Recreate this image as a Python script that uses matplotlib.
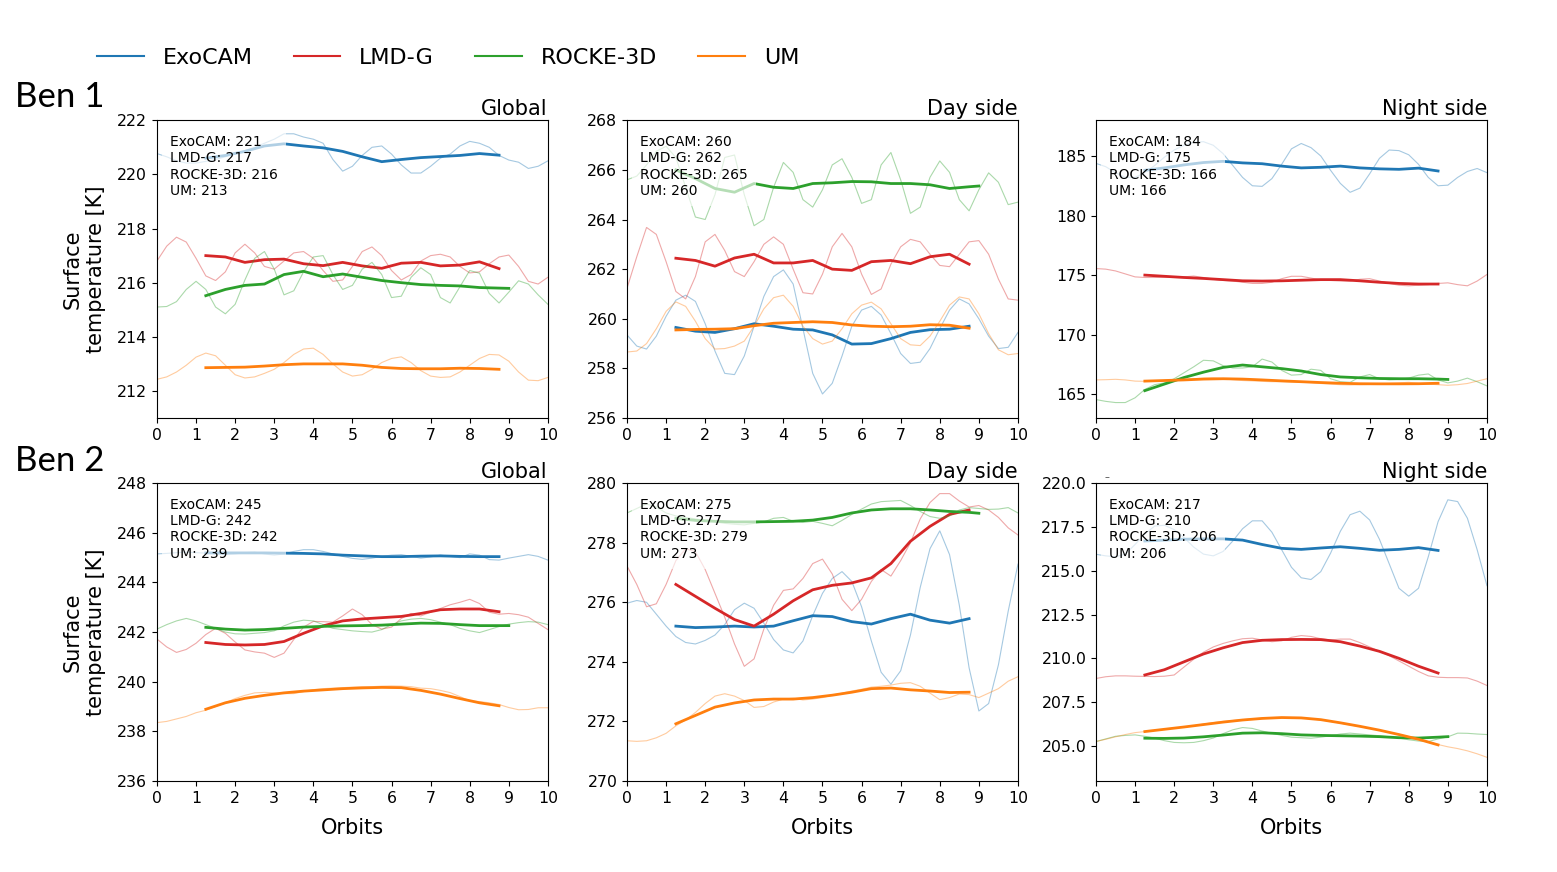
import matplotlib.pyplot as plt
from matplotlib.lines import Line2D
from matplotlib.ticker import FormatStrFormatter
import numpy as np

models = ['ExoCAM', 'LMD-G', 'ROCKE-3D', 'UM']
colors = ['tab:blue', 'tab:red', 'tab:green', 'tab:orange']

# sample positions (orbits)
t_raw = np.arange(0, 10.01, 0.25)
t_smooth = np.arange(1.25, 8.76, 0.5)
t_smooth_rocke = np.append(t_smooth, 9.0)

# ---------------- Ben 1, global ----------------
b1g_exo = [220.77, 220.65, 220.5, 220.42, 220.42, 220.48, 220.55, 220.65, 220.75, 220.88,
           221.0, 221.15, 221.3, 221.5, 221.5, 221.38, 221.3, 221.15, 220.55, 220.12,
           220.3, 220.7, 221.0, 221.05, 220.75, 220.35, 220.05, 220.05, 220.3, 220.6,
           220.75, 221.05, 221.22, 221.15, 221.0, 220.7, 220.53, 220.45, 220.22, 220.3,
           220.5]
b1g_lmd = [216.8, 217.35, 217.68, 217.5, 216.9, 216.25, 216.08, 216.4, 217.1, 217.42,
           217.1, 216.6, 216.5, 216.8, 217.1, 217.15, 216.9, 216.45, 216.05, 216.1,
           216.6, 217.15, 217.32, 217.0, 216.45, 216.1, 216.3, 216.8, 217.0, 217.05,
           216.95, 216.6, 216.36, 216.4, 216.7, 216.95, 217.02, 216.6, 216.05, 215.95,
           216.2]
b1g_rocke = [215.1, 215.12, 215.3, 215.75, 216.05, 215.75, 215.1, 214.85, 215.2, 216.1,
             216.9, 217.15, 216.5, 215.55, 215.7, 216.4, 216.95, 217.0, 216.3, 215.75,
             215.9, 216.5, 216.75, 216.3, 215.45, 215.5, 216.2, 216.55, 216.3, 215.45,
             215.25, 215.85, 216.45, 216.35, 215.6, 215.25, 215.65, 216.07, 215.95, 215.55,
             215.2]
b1g_um = [212.43, 212.52, 212.7, 212.95, 213.25, 213.4, 213.3, 212.95, 212.6, 212.48,
          212.52, 212.65, 212.8, 213.05, 213.35, 213.55, 213.58, 213.35, 213.0, 212.7,
          212.55, 212.6, 212.8, 213.05, 213.2, 213.26, 213.05, 212.75, 212.55, 212.5,
          212.52, 212.7, 212.95, 213.2, 213.35, 213.33, 213.1, 212.7, 212.4, 212.38,
          212.5]
b1g_exo_s = [220.6, 220.7, 220.85, 221.05, 221.13, 221.05, 220.98, 220.85, 220.65, 220.47,
             220.55, 220.62, 220.66, 220.7, 220.77, 220.71]
b1g_lmd_s = [217.0, 216.95, 216.75, 216.85, 216.87, 216.7, 216.63, 216.75, 216.62, 216.53,
             216.72, 216.75, 216.62, 216.65, 216.77, 216.52]
b1g_rocke_s = [215.52, 215.75, 215.9, 215.95, 216.3, 216.42, 216.22, 216.32, 216.2, 216.08,
               216.0, 215.93, 215.9, 215.88, 215.82, 215.8, 215.79]
b1g_um_s = [212.86, 212.87, 212.88, 212.92, 212.97, 213.0, 213.0, 213.0, 212.95, 212.87,
            212.83, 212.82, 212.82, 212.84, 212.83, 212.8]
b1g_means = [221, 217, 216, 213]

# ---------------- Ben 1, day side ----------------
b1d_exo = [259.35, 258.9, 258.78, 259.3, 260.1, 260.75, 260.95, 260.7, 259.8, 258.7,
           257.8, 257.75, 258.5, 259.7, 260.9, 261.7, 261.97, 261.4, 259.6, 257.8,
           256.97, 257.4, 258.5, 259.7, 260.35, 260.5, 260.15, 259.4, 258.6, 258.2,
           258.25, 258.8, 259.6, 260.35, 260.8, 260.6, 260.0, 259.3, 258.8, 258.85,
           259.45]
b1d_lmd = [261.23, 262.5, 263.68, 263.4, 262.3, 261.1, 260.8, 261.7, 263.1, 263.4,
           262.75, 261.9, 261.7, 262.3, 263.0, 263.3, 263.0, 262.0, 261.05, 261.0,
           261.8, 262.9, 263.44, 262.9, 261.8, 260.98, 261.2, 262.2, 262.9, 263.2,
           263.1, 262.6, 262.15, 262.1, 262.6, 263.1, 263.15, 262.6, 261.6, 260.8,
           260.75]
b1d_rocke = [265.6, 265.75, 266.2, 266.75, 266.95, 266.5, 265.3, 264.1, 264.0, 265.0,
             266.5, 266.6, 265.0, 263.75, 264.0, 265.3, 266.3, 265.9, 264.8, 264.5,
             265.2, 266.2, 266.45, 265.7, 264.65, 264.8, 266.2, 266.7, 265.6, 264.25,
             264.5, 265.7, 266.36, 265.9, 264.8, 264.35, 265.2, 265.88, 265.5, 264.6,
             264.7]
b1d_um = [258.66, 258.7, 259.0, 259.6, 260.3, 260.68, 260.5, 259.9, 259.2, 258.78,
          258.8, 258.9, 259.1, 259.7, 260.4, 260.85, 260.95, 260.5, 259.7, 259.2,
          258.98, 259.1, 259.6, 260.2, 260.55, 260.67, 260.4, 259.8, 259.2, 258.95,
          258.92, 259.3, 259.9, 260.55, 260.88, 260.8, 260.2, 259.4, 258.75, 258.55,
          258.6]
b1d_exo_s = [259.65, 259.5, 259.45, 259.6, 259.8, 259.7, 259.58, 259.55, 259.35, 258.98,
             259.0, 259.2, 259.45, 259.56, 259.58, 259.7]
b1d_lmd_s = [262.44, 262.35, 262.12, 262.45, 262.6, 262.25, 262.25, 262.35, 262.0, 261.95,
             262.3, 262.35, 262.22, 262.5, 262.6, 262.2]
b1d_rocke_s = [266.0, 265.65, 265.25, 265.1, 265.45, 265.3, 265.25, 265.45, 265.48, 265.53,
               265.52, 265.45, 265.45, 265.4, 265.25, 265.32, 265.35]
b1d_um_s = [259.55, 259.57, 259.58, 259.6, 259.72, 259.82, 259.85, 259.88, 259.85, 259.75,
            259.7, 259.68, 259.7, 259.76, 259.74, 259.62]
b1d_means = [260, 262, 265, 260]

# ---------------- Ben 1, night side ----------------
b1n_exo = [184.38, 184.1, 183.6, 183.2, 183.2, 183.6, 184.2, 184.9, 185.5, 185.9,
           186.15, 186.2, 185.9, 185.2, 184.2, 183.2, 182.5, 182.45, 183.1, 184.3,
           185.6, 186.05, 185.7, 185.0, 183.8, 182.7, 181.95, 182.3, 183.5, 184.8,
           185.5, 185.45, 185.1, 184.3, 183.2, 182.5, 182.55, 183.2, 183.7, 183.95,
           183.6]
b1n_lmd = [175.55, 175.5, 175.35, 175.1, 174.85, 174.8, 174.8, 174.82, 174.82, 174.85,
           174.92, 174.8, 174.65, 174.55, 174.5, 174.4, 174.3, 174.3, 174.4, 174.7,
           174.9, 174.9, 174.75, 174.6, 174.55, 174.5, 174.5, 174.65, 174.7, 174.5,
           174.3, 174.15, 174.1, 174.15, 174.2, 174.3, 174.35, 174.2, 174.1, 174.5,
           175.05]
b1n_rocke = [164.55, 164.4, 164.3, 164.3, 164.7, 165.4, 165.8, 165.95, 166.3, 166.8,
             167.3, 167.85, 167.8, 167.4, 167.2, 167.2, 167.3, 167.95, 167.7, 167.0,
             166.6, 166.65, 167.1, 167.0, 166.3, 166.05, 166.0, 166.45, 166.65, 166.3,
             166.2, 166.25, 166.35, 166.6, 166.7, 166.2, 165.95, 166.1, 166.35, 166.05,
             165.7]
b1n_um = [166.2, 166.22, 166.25, 166.2, 166.1, 166.08, 166.1, 166.15, 166.2, 166.25,
          166.3, 166.35, 166.37, 166.3, 166.22, 166.15, 166.12, 166.08, 166.05, 166.05,
          166.02, 166.0, 165.97, 165.9, 165.85, 165.8, 165.78, 165.8, 165.82, 165.85,
          165.9, 165.95, 166.0, 165.9, 165.85, 165.8, 165.75, 165.8, 165.9, 166.1,
          166.3]
b1n_exo_s = [183.8, 184.0, 184.25, 184.45, 184.55, 184.42, 184.35, 184.15, 184.0, 184.05,
             184.15, 184.0, 183.92, 183.88, 183.98, 183.74]
b1n_lmd_s = [175.0, 174.9, 174.8, 174.72, 174.62, 174.52, 174.5, 174.52, 174.57, 174.62,
             174.62, 174.52, 174.4, 174.3, 174.25, 174.25]
b1n_rocke_s = [165.3, 165.85, 166.4, 166.85, 167.25, 167.45, 167.3, 167.15, 166.95, 166.65,
               166.45, 166.38, 166.32, 166.3, 166.3, 166.27, 166.24]
b1n_um_s = [166.1, 166.15, 166.2, 166.27, 166.3, 166.27, 166.2, 166.12, 166.05, 165.98,
            165.92, 165.88, 165.87, 165.87, 165.88, 165.92]
b1n_means = [184, 175, 166, 166]

# ---------------- Ben 2, global ----------------
b2g_exo = [245.15, 245.17, 245.2, 245.22, 245.2, 245.18, 245.15, 245.12, 245.15, 245.2,
           245.22, 245.15, 245.1, 245.15, 245.25, 245.32, 245.32, 245.25, 245.15, 245.05,
           244.97, 244.93, 244.98, 245.05, 245.1, 245.12, 245.05, 244.98, 245.03, 245.1,
           245.05, 245.0, 245.15, 245.1, 244.92, 244.9, 244.98, 245.05, 245.12, 245.05,
           244.9]
b2g_lmd = [241.72, 241.4, 241.18, 241.3, 241.55, 241.9, 242.15, 241.95, 241.6, 241.28,
           241.2, 241.15, 240.98, 241.15, 241.7, 242.2, 242.43, 242.42, 242.4, 242.65,
           242.93, 242.7, 242.3, 242.12, 242.2, 242.55, 242.75, 242.65, 242.8, 242.95,
           243.1, 243.2, 243.32, 243.15, 242.8, 242.72, 242.75, 242.7, 242.6, 242.35,
           242.1]
b2g_rocke = [242.12, 242.3, 242.45, 242.55, 242.45, 242.3, 242.15, 242.0, 241.93, 241.92,
             241.95, 241.98, 242.05, 242.25, 242.4, 242.48, 242.45, 242.3, 242.15, 242.1,
             242.05, 242.02, 242.0, 242.1, 242.3, 242.45, 242.52, 242.55, 242.5, 242.4,
             242.3, 242.15, 242.05, 241.98, 242.1, 242.22, 242.32, 242.38, 242.42, 242.4,
             242.3]
b2g_um = [238.35, 238.4, 238.5, 238.6, 238.75, 238.85, 239.0, 239.15, 239.32, 239.45,
          239.55, 239.57, 239.55, 239.52, 239.52, 239.6, 239.68, 239.72, 239.74, 239.76,
          239.78, 239.8, 239.8, 239.82, 239.83, 239.82, 239.8, 239.74, 239.72, 239.65,
          239.56, 239.4, 239.23, 239.2, 239.15, 239.08, 238.96, 238.87, 238.88, 238.95,
          238.95]
b2g_exo_s = [245.19, 245.19, 245.19, 245.19, 245.18, 245.17, 245.15, 245.1, 245.07, 245.04,
             245.04, 245.06, 245.07, 245.05, 245.04, 245.04]
b2g_lmd_s = [241.58, 241.5, 241.48, 241.5, 241.62, 241.95, 242.25, 242.45, 242.53, 242.58,
             242.63, 242.75, 242.9, 242.93, 242.93, 242.82]
b2g_rocke_s = [242.19, 242.12, 242.08, 242.1, 242.15, 242.2, 242.23, 242.25, 242.26, 242.28,
               242.32, 242.36, 242.35, 242.3, 242.26, 242.26, 242.26]
b2g_um_s = [238.89, 239.15, 239.33, 239.45, 239.55, 239.62, 239.67, 239.72, 239.75, 239.77,
            239.76, 239.65, 239.5, 239.32, 239.15, 239.03]
b2g_means = [245, 242, 242, 239]

# ---------------- Ben 2, day side ----------------
b2d_exo = [275.97, 276.06, 276.0, 275.6, 275.2, 274.85, 274.65, 274.6, 274.72, 274.9,
           275.25, 275.75, 275.97, 275.8, 275.3, 274.75, 274.4, 274.3, 274.7, 275.55,
           276.3, 276.8, 277.03, 276.7, 275.85, 274.7, 273.65, 273.25, 273.7, 274.9,
           276.5, 277.8, 278.4, 277.6, 275.9, 273.8, 272.35, 272.6, 273.9, 275.7,
           277.28]
b2d_lmd = [277.22, 276.6, 275.85, 275.95, 276.6, 277.4, 277.8, 277.7, 277.1, 276.3,
           275.5, 274.6, 273.85, 274.1, 275.1, 275.9, 276.4, 276.45, 276.8, 277.3,
           277.45, 276.95, 276.1, 275.72, 276.1, 276.7, 277.1, 276.88, 277.4, 278.0,
           278.8, 279.35, 279.65, 279.65, 279.4, 279.2, 279.25, 279.1, 278.85, 278.5,
           278.26]
b2d_rocke = [279.0, 279.15, 279.3, 279.2, 279.0, 278.9, 278.85, 278.8, 278.75, 278.7,
             278.65, 278.62, 278.6, 278.65, 278.7, 278.82, 278.85, 278.72, 278.68, 278.72,
             278.65, 278.57, 278.75, 278.95, 279.13, 279.3, 279.38, 279.4, 279.42, 279.25,
             279.05, 278.88, 278.82, 278.9, 279.1, 279.18, 279.15, 279.12, 279.13, 279.18,
             279.0]
b2d_um = [271.35, 271.33, 271.35, 271.45, 271.6, 271.85, 272.05, 272.3, 272.6, 272.85,
          272.93, 272.85, 272.7, 272.47, 272.5, 272.65, 272.75, 272.78, 272.72, 272.75,
          272.8, 272.88, 272.95, 273.02, 273.08, 273.15, 273.18, 273.22, 273.28, 273.3,
          273.18, 272.95, 272.73, 272.8, 272.92, 272.9, 272.8, 272.95, 273.1, 273.35,
          273.5]
b2d_exo_s = [275.2, 275.15, 275.17, 275.2, 275.17, 275.2, 275.38, 275.55, 275.52, 275.35,
             275.27, 275.45, 275.6, 275.4, 275.3, 275.45]
b2d_lmd_s = [276.6, 276.2, 275.8, 275.42, 275.2, 275.6, 276.05, 276.42, 276.57, 276.65,
             276.82, 277.3, 278.05, 278.55, 278.95, 279.1]
b2d_rocke_s = [278.82, 278.75, 278.72, 278.7, 278.7, 278.71, 278.72, 278.76, 278.85, 279.0,
               279.1, 279.14, 279.14, 279.1, 279.05, 279.02, 278.99]
b2d_um_s = [271.92, 272.2, 272.48, 272.62, 272.72, 272.75, 272.75, 272.8, 272.88, 272.98,
            273.1, 273.12, 273.06, 273.02, 272.97, 272.98]
b2d_means = [275, 277, 279, 273]

# ---------------- Ben 2, night side ----------------
b2n_exo = [215.94, 215.85, 215.8, 215.95, 216.5, 217.1, 217.55, 217.6, 217.35, 216.9,
           216.35, 215.95, 215.85, 216.1, 216.7, 217.4, 217.85, 217.85, 217.2, 216.2,
           215.2, 214.6, 214.5, 214.95, 216.0, 217.25, 218.2, 218.4, 217.9, 216.8,
           215.4, 214.0, 213.55, 214.0, 215.8, 217.8, 219.05, 218.95, 218.0, 216.2,
           214.15]
b2n_lmd = [208.85, 208.95, 209.0, 209.0, 208.98, 208.97, 208.96, 208.98, 209.05, 209.5,
           209.95, 210.35, 210.65, 210.85, 211.0, 211.12, 211.15, 211.05, 210.95, 211.0,
           211.2, 211.3, 211.25, 211.12, 211.05, 211.1, 211.1, 210.9, 210.65, 210.4,
           210.15, 209.85, 209.55, 209.25, 209.0, 208.92, 208.9, 208.9, 208.88, 208.7,
           208.45]
b2n_rocke = [205.25, 205.4, 205.55, 205.6, 205.63, 205.55, 205.45, 205.3, 205.2, 205.18,
             205.2, 205.3, 205.45, 205.7, 205.92, 206.05, 206.0, 205.85, 205.72, 205.6,
             205.5, 205.47, 205.44, 205.5, 205.58, 205.68, 205.73, 205.68, 205.63, 205.58,
             205.52, 205.45, 205.35, 205.28, 205.25, 205.4, 205.52, 205.73, 205.72, 205.68,
             205.65]
b2n_um = [205.25, 205.38, 205.52, 205.65, 205.76, 205.82, 205.88, 205.95, 206.02, 206.08,
          206.15, 206.25, 206.33, 206.4, 206.45, 206.5, 206.55, 206.58, 206.6, 206.62,
          206.62, 206.6, 206.55, 206.48, 206.4, 206.3, 206.2, 206.1, 206.0, 205.9,
          205.78, 205.66, 205.53, 205.4, 205.25, 205.08, 204.95, 204.85, 204.72, 204.55,
          204.35]
b2n_exo_s = [216.7, 216.75, 216.8, 216.82, 216.82, 216.75, 216.5, 216.28, 216.22, 216.3,
             216.37, 216.28, 216.17, 216.22, 216.32, 216.16]
b2n_lmd_s = [209.05, 209.35, 209.8, 210.25, 210.6, 210.9, 211.03, 211.07, 211.08, 211.07,
             210.95, 210.7, 210.4, 210.0, 209.55, 209.16]
b2n_rocke_s = [205.44, 205.43, 205.45, 205.52, 205.62, 205.73, 205.75, 205.7, 205.63, 205.6,
               205.58, 205.56, 205.53, 205.47, 205.45, 205.5, 205.53]
b2n_um_s = [205.82, 205.95, 206.08, 206.22, 206.36, 206.48, 206.57, 206.62, 206.6, 206.5,
            206.32, 206.12, 205.9, 205.65, 205.38, 205.06]
b2n_means = [217, 210, 206, 206]

# title, y limits, y ticks, means, raw series, smoothed series
panels = [
    ('Global', (211, 222), [212, 214, 216, 218, 220, 222], b1g_means,
     [b1g_exo, b1g_lmd, b1g_rocke, b1g_um], [b1g_exo_s, b1g_lmd_s, b1g_rocke_s, b1g_um_s]),
    ('Day side', (256, 268), [256, 258, 260, 262, 264, 266, 268], b1d_means,
     [b1d_exo, b1d_lmd, b1d_rocke, b1d_um], [b1d_exo_s, b1d_lmd_s, b1d_rocke_s, b1d_um_s]),
    ('Night side', (163, 188), [165, 170, 175, 180, 185], b1n_means,
     [b1n_exo, b1n_lmd, b1n_rocke, b1n_um], [b1n_exo_s, b1n_lmd_s, b1n_rocke_s, b1n_um_s]),
    ('Global', (236, 248), [236, 238, 240, 242, 244, 246, 248], b2g_means,
     [b2g_exo, b2g_lmd, b2g_rocke, b2g_um], [b2g_exo_s, b2g_lmd_s, b2g_rocke_s, b2g_um_s]),
    ('Day side', (270, 280), [270, 272, 274, 276, 278, 280], b2d_means,
     [b2d_exo, b2d_lmd, b2d_rocke, b2d_um], [b2d_exo_s, b2d_lmd_s, b2d_rocke_s, b2d_um_s]),
    ('Night side', (203, 220), [205, 207.5, 210, 212.5, 215, 217.5, 220], b2n_means,
     [b2n_exo, b2n_lmd, b2n_rocke, b2n_um], [b2n_exo_s, b2n_lmd_s, b2n_rocke_s, b2n_um_s]),
]

fig = plt.figure(figsize=(15.57, 8.72), dpi=100)

col_left = [0.1008, 0.4027, 0.7039]
row_bottom = [0.5206, 0.1044]
ax_w, ax_h = 0.2511, 0.3415

for i, (title, ylim, yticks, means, raws, smooths) in enumerate(panels):
    r, c = divmod(i, 3)
    ax = fig.add_axes([col_left[c], row_bottom[r], ax_w, ax_h])
    for k in range(4):
        ax.plot(t_raw, raws[k], color=colors[k], lw=0.8, alpha=0.4)
        ts = t_smooth_rocke if k == 2 else t_smooth
        ax.plot(ts, smooths[k], color=colors[k], lw=2)

    txt = '\n'.join(f'{m}: {v}' for m, v in zip(models, means))
    ax.text(0.033, 0.95, txt, transform=ax.transAxes, va='top', ha='left', fontsize=10,
            bbox=dict(boxstyle='square,pad=0.6', fc='white', ec='none', alpha=0.65))

    ax.set_xlim(0, 10)
    ax.set_xticks(range(11))
    ax.set_ylim(*ylim)
    ax.set_yticks(yticks)
    if i == 5:
        ax.yaxis.set_major_formatter(FormatStrFormatter('%.1f'))
    ax.tick_params(labelsize=11.3)
    ax.set_title(title, loc='right', fontsize=15, pad=3.5)
    if c == 0:
        ax.set_ylabel('Surface\ntemperature [K]', fontsize=15, labelpad=8)
    if r == 1:
        ax.set_xlabel('Orbits', fontsize=15, labelpad=9)

# small stray mark above the last panel, as in the original figure
fig.text(1107 / 1557, 1 - 477 / 872, '–', fontsize=7, color='0.3', ha='center', va='center')

fig.text(15 / 1557, 1 - 107 / 872, 'Ben 1', fontsize=25, family='Lato', va='baseline')
fig.text(15 / 1557, 1 - 471 / 872, 'Ben 2', fontsize=25, family='Lato', va='baseline')

handles = [Line2D([], [], color=col, lw=1.5) for col in colors]
fig.legend(handles, models, loc='center left', bbox_to_anchor=(97 / 1557, 1 - 58 / 872),
           ncol=4, frameon=False, fontsize=16, handlelength=2.1, handletextpad=0.85,
           columnspacing=1.85, borderpad=0, borderaxespad=0)

fig.savefig('out.png', dpi=100)
